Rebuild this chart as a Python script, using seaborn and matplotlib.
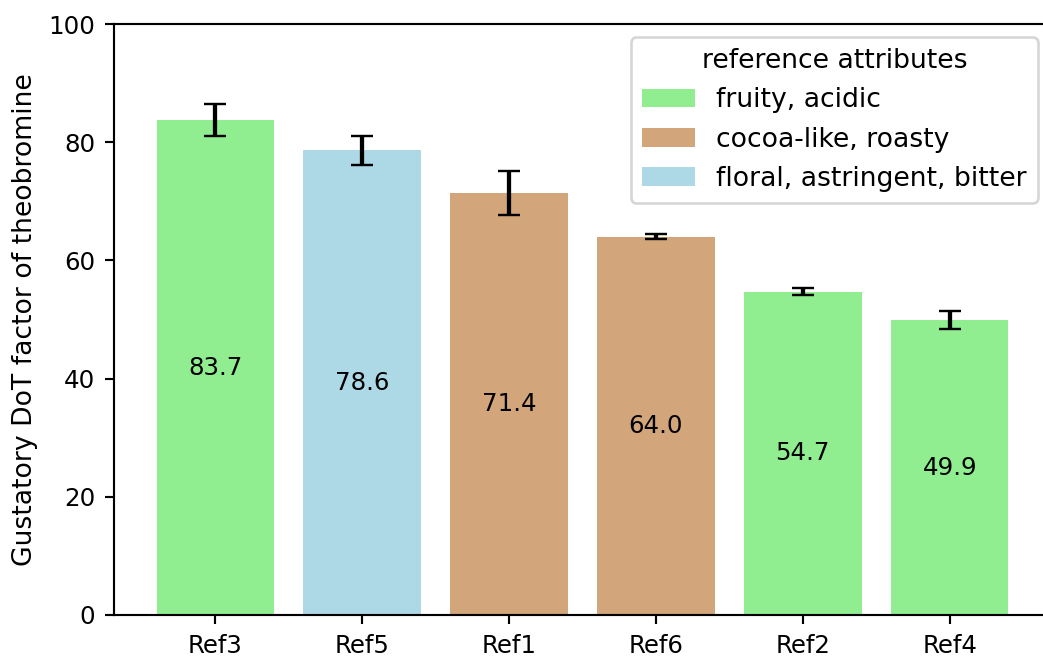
import matplotlib
matplotlib.use("Agg")
import matplotlib.pyplot as plt
import seaborn as sns
import pandas as pd

# Gustatory DoT factors of theobromine per reference chocolate
references = ["Ref3", "Ref5", "Ref1", "Ref6", "Ref2", "Ref4"]
dot_factor = [83.7, 78.6, 71.4, 64.0, 54.7, 49.9]
dot_error = [2.7, 2.4, 3.8, 0.4, 0.6, 1.5]
attributes = ["fruity, acidic", "floral, astringent, bitter", "cocoa-like, roasty",
              "cocoa-like, roasty", "fruity, acidic", "fruity, acidic"]

attribute_order = ["fruity, acidic", "cocoa-like, roasty", "floral, astringent, bitter"]
attribute_colors = ["#90EE90", "#D2A57A", "#ADD8E6"]

df = pd.DataFrame({"reference": references, "dot": dot_factor,
                   "err": dot_error, "attribute": attributes})

DPI = 192
fig = plt.figure(figsize=(1043 / DPI, 657 / DPI), dpi=DPI)
ax = fig.add_axes([114 / 1043, 42 / 657, 937 / 1043, 591 / 657])

sns.barplot(data=df, x="reference", y="dot", hue="attribute",
            hue_order=attribute_order, palette=attribute_colors,
            order=references, dodge=False, errorbar=None, width=0.8,
            saturation=1, ax=ax)

ax.errorbar(x=range(len(references)), y=df["dot"], yerr=df["err"],
            fmt="none", ecolor="black", elinewidth=1.6, capsize=4, capthick=0.9)

for container in ax.containers:
    if hasattr(container, "patches"):
        ax.bar_label(container, fmt="%.1f", label_type="center", fontsize=9.2)

ax.set_ylim(0, 100)
ax.set_yticks([0, 20, 40, 60, 80, 100])
ax.tick_params(axis="both", labelsize=9.2)
ax.set_xlabel("")
ax.set_ylabel("Gustatory DoT factor of theobromine", fontsize=10)
ax.legend(title="reference attributes", loc="upper right", fontsize=10,
          title_fontsize=10)

fig.savefig("out.png", dpi=DPI)
